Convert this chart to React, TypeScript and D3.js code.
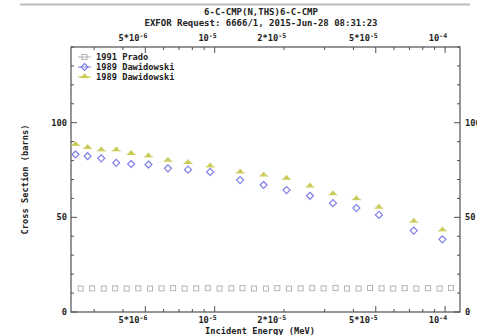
import * as d3 from "d3";

// 1991 Prado (grey squares)
const pradoE = [
  2.62e-6, 2.94e-6, 3.3e-6, 3.7e-6, 4.15e-6, 4.66e-6, 5.24e-6, 5.88e-6, 6.6e-6, 7.41e-6, 8.32e-6,
  9.34e-6, 1.05e-5, 1.18e-5, 1.32e-5, 1.48e-5, 1.67e-5, 1.87e-5, 2.1e-5, 2.36e-5, 2.65e-5, 2.97e-5,
  3.34e-5, 3.75e-5, 4.21e-5, 4.72e-5, 5.3e-5, 5.95e-5, 6.68e-5, 7.5e-5, 8.42e-5, 9.46e-5, 1.06e-4,
];
const pradoXS = [
  12.4, 12.5, 12.4, 12.5, 12.4, 12.5, 12.4, 12.5, 12.6, 12.4, 12.5,
  12.6, 12.4, 12.5, 12.6, 12.4, 12.4, 12.6, 12.4, 12.5, 12.6, 12.5,
  12.7, 12.4, 12.4, 12.7, 12.5, 12.4, 12.6, 12.4, 12.6, 12.4, 12.7,
];

// 1989 Dawidowski (both sets share the energies)
const dawE = [
  2.49e-6, 2.81e-6, 3.22e-6, 3.74e-6, 4.34e-6, 5.16e-6, 6.27e-6, 7.66e-6, 9.56e-6,
  1.29e-5, 1.63e-5, 2.05e-5, 2.59e-5, 3.26e-5, 4.12e-5, 5.16e-5, 7.31e-5, 9.73e-5,
];
const dawBlueXS = [83.2, 82.3, 81.2, 78.8, 78.2, 77.9, 75.9, 75.2, 74.0, 69.7, 67.1, 64.4, 61.4, 57.5, 54.9, 51.3, 43.0, 38.4];
const dawYellowXS = [88.9, 87.3, 86.0, 86.0, 84.1, 82.8, 80.5, 79.3, 77.5, 74.3, 72.7, 71.0, 66.9, 62.8, 60.2, 55.7, 48.3, 43.7];

const xTickVals = [5e-6, 1e-5, 2e-5, 5e-5, 1e-4];
const xTickText = [["5*10", "-6"], ["10", "-5"], ["2*10", "-5"], ["5*10", "-5"], ["10", "-4"]];
const yTickVals = [0, 50, 100];
const legendNames = ["1991 Prado", "1989 Dawidowski", "1989 Dawidowski"];

const W = 477, H = 335;
const L = 71, R = 460, T = 47, B = 312;
const FONT = "'DejaVu Sans Mono', monospace";
const AX = "#505050";
const GREY = "#b4b4b4", BLUE = "#7e7ee8", YEL = "#c9c952";

function Square({ x, y, c }: { x: number; y: number; c: string }) {
  return <rect x={x - 2.5} y={y - 2.5} width={5} height={5} fill="none" stroke={c} strokeWidth={1} />;
}
function Diamond({ x, y, c }: { x: number; y: number; c: string }) {
  return <path d={`M${x},${y - 3.5}L${x + 3.5},${y}L${x},${y + 3.5}L${x - 3.5},${y}Z`} fill="none" stroke={c} strokeWidth={1.2} />;
}
function Tri({ x, y, c }: { x: number; y: number; c: string }) {
  return (
    <g>
      <path d={`M${x},${y - 2.5}L${x + 3},${y + 1.2}L${x - 3},${y + 1.2}Z`} fill={c} stroke={c} strokeWidth={0.5} />
      <line x1={x - 4.5} x2={x + 4.5} y1={y + 1.6} y2={y + 1.6} stroke={c} strokeWidth={1} />
    </g>
  );
}

export default function App() {
  const x = d3.scaleLog().domain([2.38e-6, 1.16e-4]).range([L, R]);
  const y = d3.scaleLinear().domain([0, 140]).range([B, T]);

  const xMinor = x.ticks().filter((d) => x(d) > L + 1 && x(d) < R - 1);
  const isLong = (d: number) => {
    const m = Math.round(d / Math.pow(10, Math.floor(Math.log10(d) + 1e-9)));
    return m === 1 || m === 5;
  };
  const yMinor = y.ticks(14);

  const txt = { fontFamily: FONT, fontWeight: 700, fontSize: 8.7, fill: "#222" } as const;
  const ttl = { ...txt, fontSize: 9 };

  return (
    <svg width={W} height={H} style={{ position: "absolute", left: 0, top: 0, background: "#fff" }}>
      <line x1={20} x2={470} y1={4.5} y2={4.5} stroke="#bdbdbd" strokeWidth={2} />
      <text x={261} y={15} textAnchor="middle" {...ttl}>6-C-CMP(N,THS)6-C-CMP</text>
      <text x={261} y={26} textAnchor="middle" {...ttl}>EXFOR Request: 6666/1, 2015-Jun-28 08:31:23</text>

      {/* frame */}
      <rect x={L} y={T} width={R - L} height={B - T} fill="none" stroke={AX} strokeWidth={1.2} />

      {/* x ticks top & bottom */}
      {xMinor.map((d, i) => {
        const len = isLong(d) ? 6 : 3;
        return (
          <g key={i} stroke={AX} strokeWidth={1}>
            <line x1={x(d)} x2={x(d)} y1={B} y2={B - len} />
            <line x1={x(d)} x2={x(d)} y1={T} y2={T + len} />
          </g>
        );
      })}
      {xTickVals.map((d, i) => (
        <g key={i}>
          {[T - 6, B + 11].map((yy, j) => (
            <text key={j} x={x(d) + 2} y={yy} textAnchor="end" {...txt}>
              {xTickText[i][0]}
              <tspan fontSize={6.5} dy={-3.5}>{xTickText[i][1]}</tspan>
            </text>
          ))}
        </g>
      ))}

      {/* y ticks left & right */}
      {yMinor.map((d, i) => {
        const len = d % 50 === 0 ? 6 : 3;
        return (
          <g key={i} stroke={AX} strokeWidth={1}>
            <line x1={L} x2={L + len} y1={y(d)} y2={y(d)} />
            <line x1={R} x2={R - len} y1={y(d)} y2={y(d)} />
          </g>
        );
      })}
      {yTickVals.map((d, i) => (
        <g key={i}>
          <text x={L - 4} y={y(d) + 3} textAnchor="end" {...txt}>{d}</text>
          <text x={R + 5} y={y(d) + 3} textAnchor="start" {...txt}>{d}</text>
        </g>
      ))}

      <text x={260} y={333.5} textAnchor="middle" {...txt}>Incident Energy (MeV)</text>
      <text transform={`translate(28,${(T + B) / 2}) rotate(-90)`} textAnchor="middle" {...txt}>Cross Section (barns)</text>

      {/* data */}
      {pradoE.map((e, i) => <Square key={i} x={x(e)} y={y(pradoXS[i])} c={GREY} />)}
      {dawE.map((e, i) => <Diamond key={i} x={x(e)} y={y(dawBlueXS[i])} c={BLUE} />)}
      {dawE.map((e, i) => <Tri key={i} x={x(e)} y={y(dawYellowXS[i])} c={YEL} />)}

      {/* legend */}
      {legendNames.map((n, i) => {
        const ly = 57 + i * 10;
        const c = [GREY, BLUE, YEL][i];
        return (
          <g key={i}>
            <line x1={78} x2={91} y1={ly} y2={ly} stroke={c} strokeWidth={1} />
            {i === 0 && <Square x={84.5} y={ly} c={c} />}
            {i === 1 && <Diamond x={84.5} y={ly} c={c} />}
            {i === 2 && <Tri x={84.5} y={ly - 1} c={c} />}
            <text x={96} y={ly + 3} {...txt}>{n}</text>
          </g>
        );
      })}
    </svg>
  );
}
